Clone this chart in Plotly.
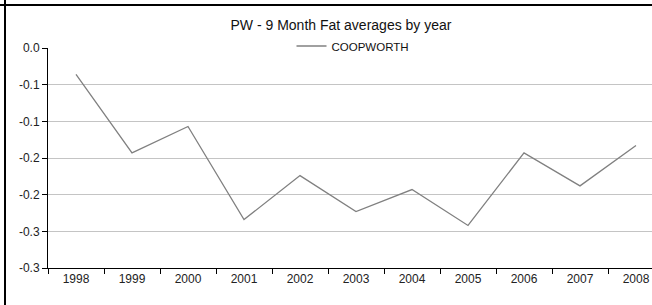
import plotly.graph_objects as go

years = ["1998", "1999", "2000", "2001", "2002", "2003", "2004", "2005", "2006", "2007", "2008"]
coopworth = [-0.036, -0.143, -0.107, -0.234, -0.174, -0.223, -0.193, -0.242, -0.143, -0.188, -0.133]
y_tickvals = [-0.3, -0.25, -0.2, -0.15, -0.1, -0.05, 0.0]
y_ticktext = ["-0.3", "-0.3", "-0.2", "-0.2", "-0.1", "-0.1", "0.0"]

W, H = 652, 305
L, T, B = 48, 48, 37
PH = H - T - B
PW = W - L
FONT = "Liberation Sans Narrow, Arial Narrow, Liberation Sans, Arial, sans-serif"

fig = go.Figure()
fig.add_trace(go.Scatter(
    x=years, y=coopworth, mode="lines", name="COOPWORTH",
    line=dict(color="#808080", width=1.3),
))

# visible part of the categorical axis (chart is cropped on the right)
x_end = 10.5 - (L + 11 * 56 - W) / 56.0

fig.update_layout(
    width=W, height=H,
    margin=dict(l=L, r=0, t=T, b=B, pad=0),
    paper_bgcolor="white", plot_bgcolor="white",
    font=dict(family=FONT, size=12, color="#222222"),
    title=dict(text="PW - 9 Month Fat averages by year", x=341 / W, xref="container",
               xanchor="center", y=1 - 25 / H, yref="container", yanchor="middle",
               font=dict(family=FONT, size=14, color="#111111")),
    showlegend=True,
    legend=dict(orientation="h", x=(353 - L) / PW, xanchor="center",
                y=1 + 2 / PH, yanchor="middle", bgcolor="rgba(0,0,0,0)",
                font=dict(family=FONT, size=11.5, color="#111111"),
                itemwidth=30, tracegroupgap=0),
    xaxis=dict(type="category", range=[-0.5, x_end], showgrid=False,
               showline=True, linecolor="black", linewidth=1,
               ticks="outside", tickson="boundaries", ticklen=5, tickcolor="black",
               tickfont=dict(family=FONT, size=12, color="#222222")),
    yaxis=dict(range=[-0.3, 0.0], tickvals=y_tickvals, ticktext=y_ticktext,
               showgrid=True, gridcolor="#c4c4c4", gridwidth=1.3,
               showline=True, linecolor="black", linewidth=1,
               ticks="outside", ticklen=5, tickcolor="black", zeroline=False,
               tickfont=dict(family=FONT, size=12, color="#222222")),
    shapes=[
        # white legend box interrupting the top gridline
        dict(type="rect", xref="paper", yref="paper",
             x0=(153 - L) / PW, x1=(551 - L) / PW,
             y0=1 - 4 / PH, y1=1 + 5 / PH,
             fillcolor="white", line=dict(width=0), layer="above"),
        # outer cell border lines (cropped on right and bottom)
        dict(type="line", xref="paper", yref="paper",
             x0=-L / PW, x1=1.0, y0=1 + (T - 5) / PH, y1=1 + (T - 5) / PH,
             line=dict(color="black", width=2)),
        dict(type="line", xref="paper", yref="paper",
             x0=(5 - L) / PW, x1=(5 - L) / PW, y0=-B / PH, y1=1 + T / PH,
             line=dict(color="black", width=2)),
    ],
)

fig.write_html("out.html", config={"displayModeBar": False},
               post_script="document.body.style.margin='0';document.body.style.overflow='hidden';")
